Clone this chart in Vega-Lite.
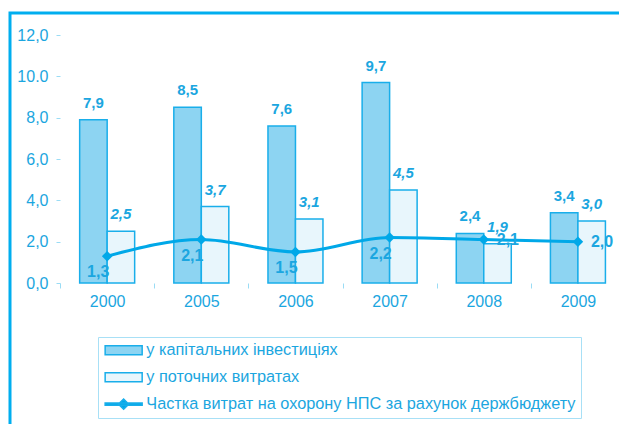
{
  "$schema": "https://vega.github.io/schema/vega-lite/v6.json",
  "autosize": "none",
  "padding": {"left": 10, "top": 13, "right": 0, "bottom": 0},
  "width": 615,
  "height": 417,
  "background": "white",
  "config": {
    "view": {"stroke": "#00AEEF", "strokeWidth": 3},
    "font": "Liberation Sans",
    "legend": {"symbolStrokeWidth": 1.5, "symbolStrokeColor": "#19AEEA"},
    "locale": {"number": {"decimal": ",", "thousands": " ", "grouping": [3], "currency": ["", ""]}}
  },
  "data": {
    "values": [
      {"year": "2000", "series": "у капітальних інвестиціях", "value": 7.9},
      {"year": "2005", "series": "у капітальних інвестиціях", "value": 8.5},
      {"year": "2006", "series": "у капітальних інвестиціях", "value": 7.6},
      {"year": "2007", "series": "у капітальних інвестиціях", "value": 9.7},
      {"year": "2008", "series": "у капітальних інвестиціях", "value": 2.4},
      {"year": "2009", "series": "у капітальних інвестиціях", "value": 3.4},
      {"year": "2000", "series": "у поточних витратах", "value": 2.5},
      {"year": "2005", "series": "у поточних витратах", "value": 3.7},
      {"year": "2006", "series": "у поточних витратах", "value": 3.1},
      {"year": "2007", "series": "у поточних витратах", "value": 4.5},
      {"year": "2008", "series": "у поточних витратах", "value": 1.9},
      {"year": "2009", "series": "у поточних витратах", "value": 3.0},
      {"year": "2000", "series": "Частка витрат на охорону НПС за рахунок держбюджету", "value": 1.3},
      {"year": "2005", "series": "Частка витрат на охорону НПС за рахунок держбюджету", "value": 2.1},
      {"year": "2006", "series": "Частка витрат на охорону НПС за рахунок держбюджету", "value": 1.5},
      {"year": "2007", "series": "Частка витрат на охорону НПС за рахунок держбюджету", "value": 2.2},
      {"year": "2008", "series": "Частка витрат на охорону НПС за рахунок держбюджету", "value": 2.1},
      {"year": "2009", "series": "Частка витрат на охорону НПС за рахунок держбюджету", "value": 2.0}
    ]
  },
  "encoding": {
    "x": {
      "field": "year", "type": "nominal", "title": null,
      "scale": {"paddingInner": 0, "paddingOuter": 0.266, "align": 1},
      "axis": {
        "orient": "bottom", "offset": -147, "domain": false, "tickBand": "extent",
        "tickSize": 5, "tickColor": "#9ADCF5", "labelAngle": 0, "labelFontSize": 16,
        "labelColor": "#1BA6E0", "labelPadding": 5
      }
    },
    "y": {
      "field": "value", "type": "quantitative", "title": null,
      "scale": {"domain": [-7.113, 13.065], "nice": false, "zero": false},
      "axis": {
        "offset": -50, "domain": false, "grid": false, "values": [0, 2, 4, 6, 8, 10, 12],
        "tickSize": 4, "tickColor": "#9ADCF5", "labelFontSize": 16, "labelColor": "#1BA6E0",
        "labelPadding": 8, "labelExpr": "datum.value == 10 ? '10.0' : format(datum.value, '.1f')"
      }
    }
  },
  "layer": [
    {
      "data": {"values": [{"a": 1}]},
      "mark": {"type": "rule", "color": "#9ADCF5", "strokeWidth": 1},
      "encoding": {
        "x": {"datum": "2000", "bandPosition": 0},
        "y": {"datum": 0},
        "y2": {"datum": 12}
      }
    },
    {
      "data": {"values": [{"a": 1}]},
      "mark": {"type": "rule", "color": "#9ADCF5", "strokeWidth": 1},
      "encoding": {
        "x": {"datum": "2000", "bandPosition": 0},
        "x2": {"datum": "2009", "bandPosition": 1},
        "y": {"datum": 0}
      }
    },
    {
      "transform": [{"filter": "datum.series !== 'Частка витрат на охорону НПС за рахунок держбюджету'"}],
      "mark": {"type": "bar", "stroke": "#19AEEA", "strokeWidth": 1.5},
      "encoding": {
        "xOffset": {"field": "series", "type": "nominal", "sort": ["у капітальних інвестиціях", "у поточних витратах"], "scale": {"paddingInner": 0, "paddingOuter": 0.712}},
        "color": {
          "field": "series", "type": "nominal", "title": null,
          "scale": {
            "domain": ["у капітальних інвестиціях", "у поточних витратах", "Частка витрат на охорону НПС за рахунок держбюджету"],
            "range": ["#8DD4F2", "#E8F6FC", "#00A8E8"]
          },
          "legend": {
            "orient": "none", "legendX": 88, "legendY": 324, "title": null,
            "strokeColor": "#A8E0F6", "padding": 5, "symbolSize": 144, "labelOffset": 27,
            "labelFontSize": 16.3, "labelColor": "#1BA6E0", "rowPadding": 10, "labelLimit": 0,
            "symbolStrokeColor": "#19AEEA", "symbolStrokeWidth": 1.5,
            "encode": {
              "symbols": {
                "update": {
                  "shape": {"signal": "datum.value === 'Частка витрат на охорону НПС за рахунок держбюджету' ? 'M-1,-0.2H5.17V0.2H-1ZM1.23,0L2.08,-0.85L2.93,0L2.08,0.85Z' : 'M-1,-0.75H5.17V0.75H-1Z'"}
                }
              }
            }
          }
        }
      }
    },
    {
      "transform": [{"filter": "datum.series === 'у капітальних інвестиціях'"}],
      "mark": {"type": "text", "baseline": "bottom", "dy": -9, "fontSize": 15, "fontWeight": "bold", "color": "#1BA6E0"},
      "encoding": {
        "xOffset": {"field": "series", "type": "nominal", "sort": ["у капітальних інвестиціях", "у поточних витратах"], "scale": {"domain": ["у капітальних інвестиціях", "у поточних витратах"]}},
        "text": {"field": "value", "type": "quantitative", "format": ".1f"}
      }
    },
    {
      "transform": [{"filter": "datum.series === 'у поточних витратах'"}],
      "mark": {"type": "text", "baseline": "bottom", "dy": -9, "fontSize": 15, "fontWeight": "bold", "fontStyle": "italic", "color": "#1BA6E0"},
      "encoding": {
        "xOffset": {"field": "series", "type": "nominal", "sort": ["у капітальних інвестиціях", "у поточних витратах"], "scale": {"domain": ["у капітальних інвестиціях", "у поточних витратах"]}},
        "text": {"field": "value", "type": "quantitative", "format": ".1f"}
      }
    },
    {
      "transform": [{"filter": "datum.series === 'Частка витрат на охорону НПС за рахунок держбюджету'"}],
      "mark": {"type": "line", "strokeWidth": 3, "interpolate": "monotone", "color": "#00A8E8"},
      "encoding": {}
    },
    {
      "transform": [{"filter": "datum.series === 'Частка витрат на охорону НПС за рахунок держбюджету'"}],
      "mark": {"type": "point", "shape": "diamond", "filled": true, "size": 110, "color": "#00A8E8", "opacity": 1},
      "encoding": {}
    },
    {
      "transform": [{"filter": "datum.series === 'Частка витрат на охорону НПС за рахунок держбюджету' && datum.year < '2008'"}],
      "mark": {"type": "text", "align": "center", "baseline": "middle", "dx": -9, "dy": 16, "fontSize": 16, "fontWeight": "bold", "color": "#1BA6E0"},
      "encoding": {
        "text": {"field": "value", "type": "quantitative", "format": ".1f"}
      }
    },
    {
      "transform": [{"filter": "datum.series === 'Частка витрат на охорону НПС за рахунок держбюджету' && datum.year >= '2008'"}],
      "mark": {"type": "text", "align": "left", "baseline": "middle", "dx": 13, "dy": 0, "fontSize": 16, "fontWeight": "bold", "color": "#1BA6E0"},
      "encoding": {
        "text": {"field": "value", "type": "quantitative", "format": ".1f"}
      }
    }
  ]
}
